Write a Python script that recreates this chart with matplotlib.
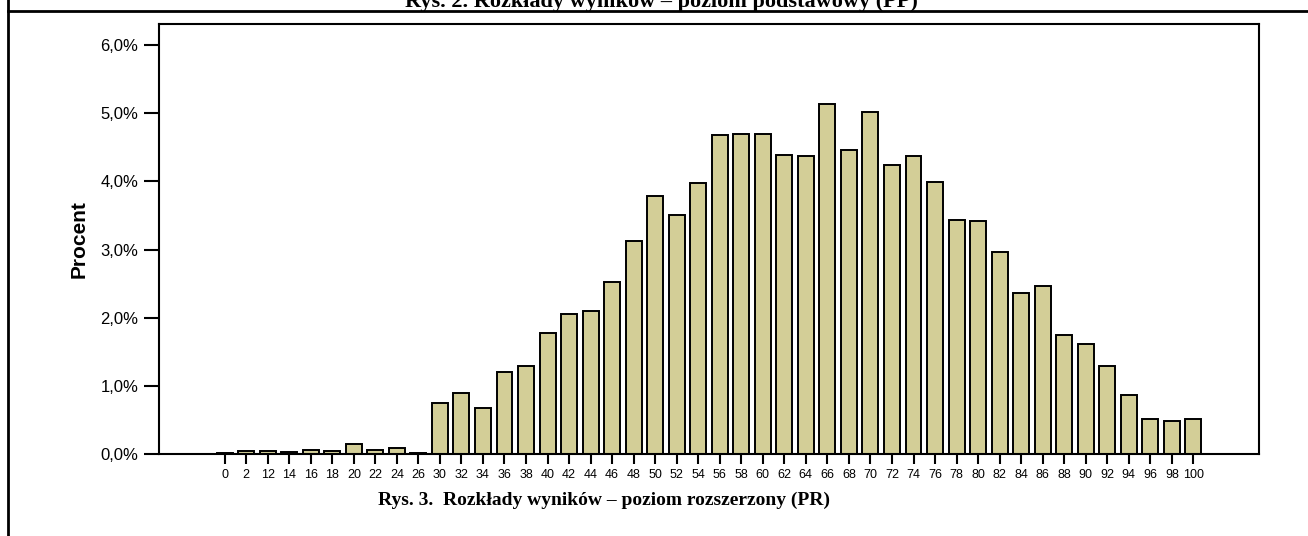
import matplotlib
matplotlib.use("Agg")
import matplotlib.pyplot as plt
from matplotlib.lines import Line2D
from matplotlib.ticker import FuncFormatter

# wyniki (punkty) i odsetek zdajacych
categories = ['0', '2', '12', '14', '16', '18', '20', '22', '24', '26',
              '30', '32', '34', '36', '38', '40', '42', '44', '46', '48',
              '50', '52', '54', '56', '58', '60', '62', '64', '66', '68',
              '70', '72', '74', '76', '78', '80', '82', '84', '86', '88',
              '90', '92', '94', '96', '98', '100']
percent = [0.02, 0.05, 0.04, 0.03, 0.06, 0.05, 0.14, 0.06, 0.09, 0.02,
           0.75, 0.90, 0.68, 1.21, 1.29, 1.78, 2.05, 2.10, 2.52, 3.12,
           3.78, 3.50, 3.98, 4.68, 4.70, 4.70, 4.39, 4.38, 5.14, 4.46,
           5.02, 4.24, 4.38, 3.99, 3.43, 3.42, 2.96, 2.36, 2.47, 1.74,
           1.61, 1.29, 0.87, 0.52, 0.48, 0.51]
y_ticks = [0, 1, 2, 3, 4, 5, 6]

title_top = 'Rys. 2. Rozkłady wyników – poziom podstawowy (PP)'
caption = 'Rys. 3.  Rozkłady wyników – poziom rozszerzony (PR)'

W, H = 1308, 536
fig = plt.figure(figsize=(W / 100, H / 100), dpi=100)
fig.patch.set_facecolor('white')

ax = fig.add_axes([159 / W, 1 - 454 / H, (1259 - 159) / W, (454 - 24) / H])
x = list(range(len(categories)))
ax.bar(x, percent, width=0.74, color='#D3CE97', edgecolor='black', linewidth=1.4)

ax.set_xlim(-3.05, len(categories) - 1 + 3.05)
ax.set_ylim(0, 6.31)
ax.set_xticks(x)
ax.set_xticklabels(categories, fontsize=9, family='Liberation Sans')
ax.set_yticks(y_ticks)
ax.yaxis.set_major_formatter(FuncFormatter(lambda v, p: f'{v:.1f}%'.replace('.', ',')))
for lab in ax.get_yticklabels():
    lab.set_family('Liberation Sans')
ax.tick_params(axis='y', length=11, width=1.5, labelsize=12, pad=4)
ax.tick_params(axis='x', length=7, width=1.5, pad=4)
for sp in ax.spines.values():
    sp.set_linewidth(1.5)

ax.set_ylabel('Procent', fontsize=15, fontweight='bold', family='Liberation Sans')
ax.yaxis.set_label_coords((89 - 159) / (1259 - 159), 0.5)

# ramka strony
fig.add_artist(Line2D([7.5 / W, 7.5 / W], [0, 1], color='black', lw=2,
                      transform=fig.transFigure))
fig.add_artist(Line2D([7.5 / W, 1], [1 - 11 / H, 1 - 11 / H], color='black', lw=2,
                      transform=fig.transFigure))

fig.text(661 / W, 1 - 7 / H, title_top, ha='center', va='baseline', fontsize=16,
         fontweight='bold', family='Liberation Serif')
fig.text(604 / W, 1 - 500 / H, caption, ha='center', va='center', fontsize=14,
         fontweight='bold', family='Liberation Serif')

fig.savefig('out.png', dpi=100, facecolor='white')
